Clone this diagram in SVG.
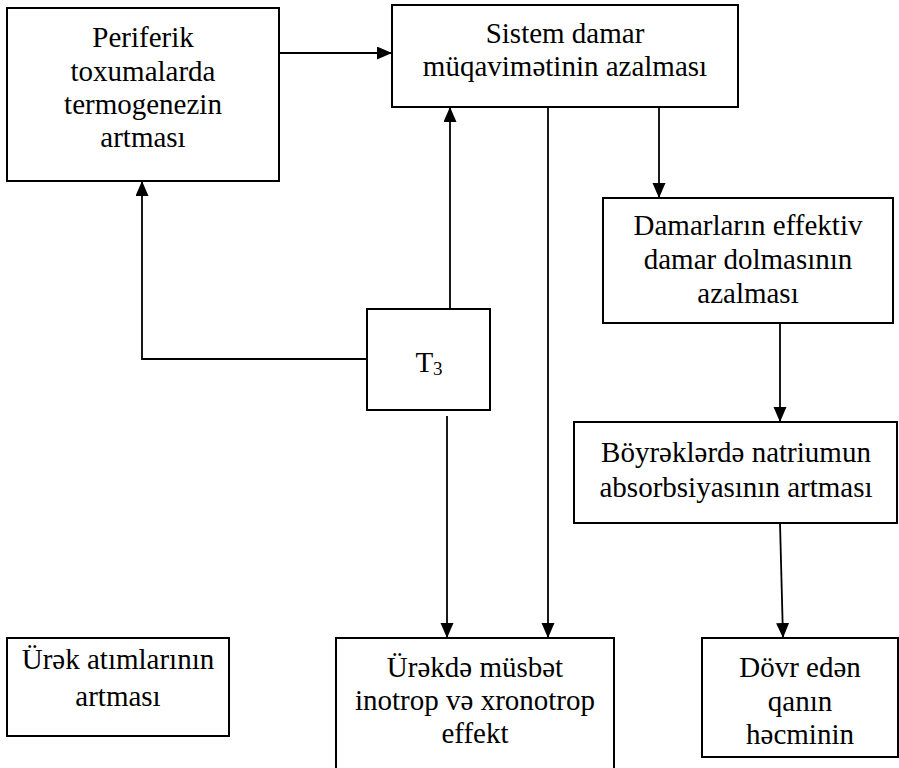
<svg xmlns="http://www.w3.org/2000/svg" width="899" height="768" viewBox="0 0 899 768">
  <style>
    .box { fill: #fff; stroke: #000; stroke-width: 2; }
    .lbl { font-family: 'Liberation Serif', 'Times New Roman', Tinos, 'DejaVu Serif', serif; font-size: 29px; fill: #000; text-anchor: middle; }
    .wire { fill: none; stroke: #000; stroke-width: 1.8; }
  </style>
  <defs>
    <marker id="arrow" markerUnits="userSpaceOnUse" markerWidth="16" markerHeight="14" refX="15" refY="6.5" orient="auto">
      <path d="M0,0 L15,6.5 L0,13 z" fill="#000"/>
    </marker>
  </defs>
  <rect width="899" height="768" fill="#fff"/>

  <g id="connectors">
    <path class="wire" d="M279,53 H392" marker-end="url(#arrow)"/>
    <path class="wire" d="M450,309 V107" marker-end="url(#arrow)"/>
    <path class="wire" d="M367,359 H142 V181" marker-end="url(#arrow)"/>
    <path class="wire" d="M659,107 V198" marker-end="url(#arrow)"/>
    <path class="wire" d="M548,107 V638" marker-end="url(#arrow)"/>
    <path class="wire" d="M447,416 V638" marker-end="url(#arrow)"/>
    <path class="wire" d="M780,323 V422" marker-end="url(#arrow)"/>
    <path class="wire" d="M780,523 L783,638" marker-end="url(#arrow)"/>
  </g>

  <g font-family="Liberation Serif, serif">
    <g id="periferik">
      <rect class="box" x="7" y="8" width="272" height="173"/>
      <text class="lbl" x="143" y="47">Periferik</text>
      <text class="lbl" x="143" y="81">toxumalarda</text>
      <text class="lbl" x="143" y="114">termogenezin</text>
      <text class="lbl" x="143" y="147">artması</text>
    </g>

    <g id="sistem-damar">
      <rect class="box" x="392" y="5" width="346" height="102"/>
      <text class="lbl" x="565" y="43">Sistem damar</text>
      <text class="lbl" x="565" y="76">müqavimətinin azalması</text>
    </g>

    <g id="damarlarin">
      <rect class="box" x="603" y="198" width="290" height="125"/>
      <text class="lbl" x="748" y="235">Damarların effektiv</text>
      <text class="lbl" x="748" y="269">damar dolmasının</text>
      <text class="lbl" x="748" y="303">azalması</text>
    </g>

    <g id="t3">
      <rect class="box" x="367" y="309" width="123" height="101"/>
      <text class="lbl" x="429" y="372">T<tspan font-size="19" dy="3">3</tspan></text>
    </g>

    <g id="boyreklerde">
      <rect class="box" x="574" y="422" width="323" height="101"/>
      <text class="lbl" x="736" y="462">Böyrəklərdə natriumun</text>
      <text class="lbl" x="736" y="497">absorbsiyasının artması</text>
    </g>

    <g id="urek-atimlari">
      <rect class="box" x="7" y="638" width="222" height="98"/>
      <text class="lbl" x="118" y="669">Ürək atımlarının</text>
      <text class="lbl" x="118" y="706">artması</text>
    </g>

    <g id="urekde">
      <rect class="box" x="336" y="638" width="278" height="140"/>
      <text class="lbl" x="475" y="677">Ürəkdə müsbət</text>
      <text class="lbl" x="475" y="710">inotrop və xronotrop</text>
      <text class="lbl" x="475" y="743">effekt</text>
    </g>

    <g id="dovr-eden">
      <rect class="box" x="702" y="638" width="196" height="119"/>
      <text class="lbl" x="800" y="677">Dövr edən</text>
      <text class="lbl" x="800" y="711">qanın</text>
      <text class="lbl" x="800" y="744">həcminin</text>
    </g>
  </g>
</svg>
